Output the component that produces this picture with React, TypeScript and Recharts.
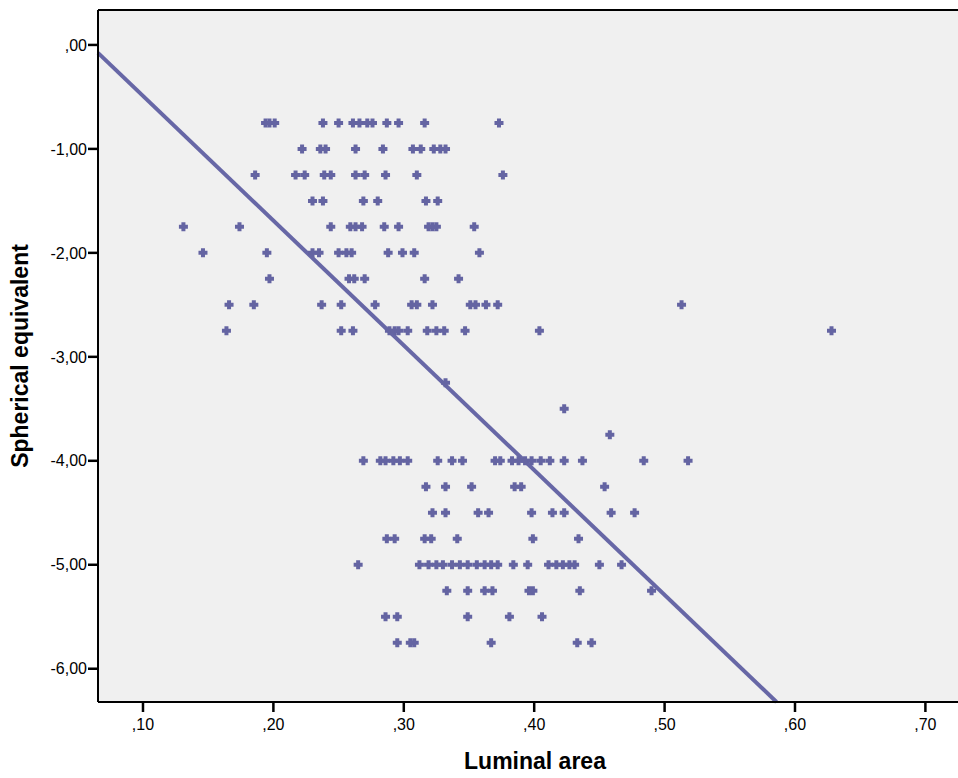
import {
  ScatterChart,
  Scatter,
  XAxis,
  YAxis,
  CartesianGrid,
  ReferenceLine,
} from "recharts";

// luminal area values, one list per spherical-equivalent level
const se075 = [0.194, 0.197, 0.201, 0.238, 0.25, 0.261, 0.266, 0.272, 0.276, 0.287, 0.296, 0.316, 0.373];
const se100 = [0.222, 0.236, 0.24, 0.263, 0.284, 0.307, 0.313, 0.323, 0.328, 0.332];
const se125 = [0.186, 0.217, 0.224, 0.239, 0.244, 0.263, 0.27, 0.286, 0.31, 0.376];
const se150 = [0.23, 0.238, 0.269, 0.28, 0.317, 0.326];
const se175 = [0.131, 0.174, 0.244, 0.259, 0.263, 0.268, 0.285, 0.296, 0.319, 0.322, 0.325, 0.354];
const se200 = [0.146, 0.195, 0.23, 0.235, 0.25, 0.256, 0.26, 0.288, 0.299, 0.308, 0.358];
const se225 = [0.197, 0.258, 0.262, 0.27, 0.316, 0.342];
const se250 = [0.166, 0.185, 0.237, 0.252, 0.278, 0.306, 0.31, 0.322, 0.351, 0.355, 0.363, 0.372, 0.513];
const se275 = [0.164, 0.252, 0.261, 0.289, 0.293, 0.296, 0.303, 0.318, 0.325, 0.331, 0.347, 0.404, 0.628];
const se325 = [0.332];
const se350 = [0.423];
const se375 = [0.458];
const se400 = [0.269, 0.282, 0.286, 0.292, 0.297, 0.303, 0.326, 0.337, 0.345, 0.37, 0.374, 0.383, 0.388, 0.393, 0.398, 0.405, 0.412, 0.423, 0.437, 0.484, 0.518];
const se425 = [0.317, 0.332, 0.352, 0.385, 0.39, 0.454];
const se450 = [0.322, 0.332, 0.357, 0.365, 0.398, 0.414, 0.423, 0.459, 0.477];
const se475 = [0.287, 0.293, 0.316, 0.321, 0.341, 0.399, 0.434];
const se500 = [0.265, 0.312, 0.319, 0.325, 0.33, 0.337, 0.343, 0.349, 0.356, 0.362, 0.367, 0.372, 0.384, 0.395, 0.411, 0.417, 0.422, 0.427, 0.431, 0.45, 0.467];
const se525 = [0.333, 0.349, 0.362, 0.368, 0.396, 0.399, 0.435, 0.49];
const se550 = [0.286, 0.295, 0.349, 0.381, 0.406];
const se575 = [0.295, 0.305, 0.308, 0.367, 0.433, 0.444];

const rows: [number, number[]][] = [
  [-0.75, se075],
  [-1.0, se100],
  [-1.25, se125],
  [-1.5, se150],
  [-1.75, se175],
  [-2.0, se200],
  [-2.25, se225],
  [-2.5, se250],
  [-2.75, se275],
  [-3.25, se325],
  [-3.5, se350],
  [-3.75, se375],
  [-4.0, se400],
  [-4.25, se425],
  [-4.5, se450],
  [-4.75, se475],
  [-5.0, se500],
  [-5.25, se525],
  [-5.5, se550],
  [-5.75, se575],
];

const points = rows.flatMap(([se, xs]) => xs.map((x) => ({ x, y: se })));

// linear fit: y = intercept + slope * x
const fit = [0.71, -12.0];

const xTicks = [0.1, 0.2, 0.3, 0.4, 0.5, 0.6, 0.7];
const yTicks = [0, -1, -2, -3, -4, -5, -6];
const xDomain = [0.0655, 0.725];
const yDomain = [-6.32, 0.336];

const MARK = "#6464a2";
const FONT = "'Liberation Sans', Arial, sans-serif";

const fitStart = { x: xDomain[0], y: fit[0] + fit[1] * xDomain[0] };
const fitEnd = { x: (yDomain[0] - fit[0]) / fit[1], y: yDomain[0] };

const fmtX = (v: number) => "," + String(Math.round(v * 100)).padStart(2, "0");
const fmtY = (v: number) => v.toFixed(2).replace(".", ",").replace(/^(-?)0,/, "$1,");

function Plus(props: any) {
  const { cx, cy } = props;
  if (cx == null || cy == null) return null;
  const d = `M${cx - 2},${cy - 4.5}h4v2.5h2.5v4h-2.5v2.5h-4v-2.5h-2.5v-4h2.5z`;
  return <path d={d} fill={MARK} />;
}

const xTitle = () => (
  <text
    x={535}
    y={769}
    textAnchor="middle"
    fontSize={23}
    fontWeight="bold"
    fill="#000"
    fontFamily={FONT}
  >
    Luminal area
  </text>
);

const yTitle = () => (
  <text
    x={20}
    y={356}
    transform="rotate(-90 20 356)"
    textAnchor="middle"
    dominantBaseline="central"
    fontSize={23}
    fontWeight="bold"
    fill="#000"
    fontFamily={FONT}
  >
    Spherical equivalent
  </text>
);

export default function App() {
  return (
    <div style={{ position: "absolute", left: 0, top: 0, background: "#fff" }}>
      <ScatterChart
        width={958}
        height={778}
        margin={{ top: 10, right: 0, left: 0, bottom: 0 }}
        style={{ fontFamily: FONT }}
      >
        <CartesianGrid fill="#f0f0f0" horizontal={false} vertical={false} />
        <XAxis
          type="number"
          dataKey="x"
          domain={xDomain}
          ticks={xTicks}
          allowDataOverflow
          height={76}
          tickFormatter={fmtX}
          tickSize={10}
          tickMargin={7}
          tick={{ fontSize: 16, fill: "#000" }}
          axisLine={{ stroke: "#000", strokeWidth: 2 }}
          tickLine={{ stroke: "#000", strokeWidth: 2.5 }}
          label={xTitle}
        />
        <YAxis
          type="number"
          dataKey="y"
          domain={yDomain}
          ticks={yTicks}
          allowDataOverflow
          width={98}
          tickFormatter={fmtY}
          tickSize={10}
          tickMargin={1}
          tick={{ fontSize: 16, fill: "#000" }}
          axisLine={{ stroke: "#000", strokeWidth: 2 }}
          tickLine={{ stroke: "#000", strokeWidth: 2.5 }}
          label={yTitle}
        />
        <ReferenceLine y={yDomain[1]} stroke="#000" strokeWidth={2} />
        <ReferenceLine
          segment={[fitStart, fitEnd]}
          stroke="#6767a6"
          strokeWidth={4}
        />
        <Scatter
          data={points}
          shape={<Plus />}
          fill={MARK}
          isAnimationActive={false}
        />
      </ScatterChart>
    </div>
  );
}
